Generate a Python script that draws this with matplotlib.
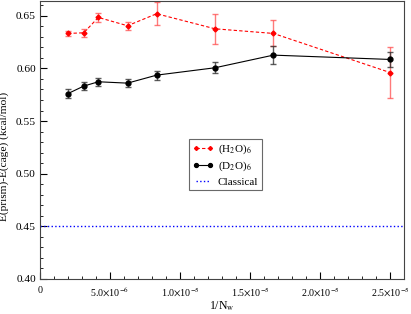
import math
import matplotlib
matplotlib.use("Agg")
import matplotlib.pyplot as plt
from matplotlib.ticker import MultipleLocator, FuncFormatter

inv_n = [2.0e-6, 3.125e-6, 4.167e-6, 6.25e-6, 8.333e-6, 1.25e-5, 1.667e-5, 2.5e-5]
h2o = [0.6332, 0.6338, 0.6484, 0.6405, 0.6519, 0.6376, 0.6332, 0.5961]
h2o_err = [0.0021, 0.004, 0.004, 0.004, 0.011, 0.0143, 0.0124, 0.0238]
d2o = [0.5761, 0.5832, 0.5873, 0.5860, 0.5936, 0.6006, 0.6126, 0.6085]
d2o_err = [0.0043, 0.004, 0.004, 0.004, 0.0044, 0.005, 0.0084, 0.0071]
classical = 0.45

plt.rcParams['font.family'] = ['Liberation Serif', 'DejaVu Serif']
plt.rcParams['mathtext.fontset'] = 'stix'

fig = plt.figure(figsize=(4.11, 3.14), dpi=100)
ax = fig.add_axes([40/411, 35/314, 364/411, 278/314])

ax.errorbar(inv_n, h2o, yerr=h2o_err, fmt='none',
            ecolor=(1, 0.3, 0.3, 0.75), elinewidth=1.0, capsize=2.5, capthick=1.0)
ax.errorbar(inv_n, d2o, yerr=d2o_err, fmt='none',
            ecolor=(0.2, 0.2, 0.2, 0.8), elinewidth=1.0, capsize=2.5, capthick=1.0)
l1, = ax.plot(inv_n, h2o, color='red', ls='--', lw=0.8, marker='D', ms=2.5,
              dashes=(3, 2), label=r'(H$_2$O)$_6$')
l2, = ax.plot(inv_n, d2o, color='black', ls='-', lw=0.8, marker='o', ms=3.5,
              label=r'(D$_2$O)$_6$')
l3 = ax.axhline(classical, color='blue', ls=':', lw=1.0, label='Classical')

ax.set_xlim(0, 2.6e-5)
ax.set_ylim(0.40, 0.664)
ax.xaxis.set_major_locator(MultipleLocator(5e-6))
ax.xaxis.set_minor_locator(MultipleLocator(1e-6))
ax.yaxis.set_major_locator(MultipleLocator(0.05))
ax.yaxis.set_minor_locator(MultipleLocator(0.01))

def xfmt(v, pos):
    if abs(v) < 1e-12:
        return '0'
    e = int(math.floor(math.log10(abs(v))))
    m = v / 10**e
    return r'%.1f$\times$10$^{%d}$' % (m, e)

ax.xaxis.set_major_formatter(FuncFormatter(xfmt))
ax.yaxis.set_major_formatter(FuncFormatter(lambda v, p: '%.2f' % v))
ax.tick_params(which='both', direction='in', top=False, right=False)
ax.tick_params(axis='x', labelsize=7.2, pad=5)
ax.tick_params(axis='y', labelsize=8.2, pad=3)
ax.tick_params(which='major', length=5)
ax.tick_params(which='minor', length=2.5)
for s in ax.spines.values():
    s.set_color('#444444')

ax.set_xlabel(r'1/N$_{\rm w}$', fontsize=8.5, labelpad=0)
ax.set_ylabel('E(prism)-E(cage) (kcal/mol)', fontsize=8.2, labelpad=3)
ax.yaxis.set_label_coords(-0.085, 0.44)

leg = ax.legend(handles=[l1, l2, l3], loc='upper left', numpoints=2, markerscale=0.8,
                bbox_to_anchor=((189-40)/364, (279-139)/278), fontsize=8,
                frameon=True, fancybox=False, edgecolor='#444444', handlelength=1.9,
                borderpad=0.3, labelspacing=0.35, handletextpad=0.4, borderaxespad=0)
leg.get_frame().set_linewidth(0.8)

fig.savefig('out.png', dpi=100)
